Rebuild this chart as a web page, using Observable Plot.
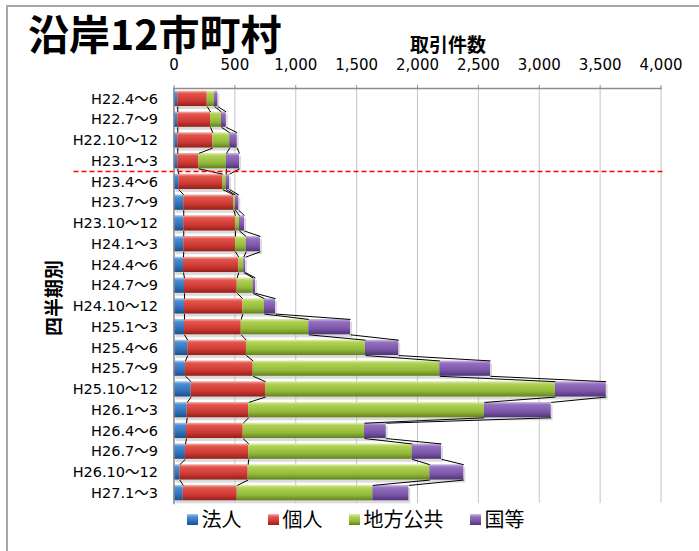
<!DOCTYPE html>
<html>
<head>
<meta charset="utf-8">
<script src="https://cdn.jsdelivr.net/npm/d3@7"></script>
<script src="https://cdn.jsdelivr.net/npm/@observablehq/plot@0.6"></script>
<style>
  body { margin: 0; background: #fff; }
  #wrap { position: relative; width: 699px; height: 551px; overflow: hidden; background: #fff; font-family: "Noto Sans CJK JP", sans-serif; color: #000; }
  #frame { position: absolute; left: 6px; top: 5px; width: 900px; height: 900px; border-left: 2px solid #a8a8a8; border-top: 2px solid #a8a8a8; z-index: 2; pointer-events: none; }
  #chart { position: absolute; left: 0; top: 0; }
  #title { position: absolute; left: 28px; top: 12px; font-size: 41px; font-weight: bold; line-height: 1; white-space: nowrap; z-index: 3; }
  #xtitle { position: absolute; left: 448px; top: 34px; transform: translateX(-50%); font-size: 19px; font-weight: bold; line-height: 1; white-space: nowrap; z-index: 3; }
  #ytitle { position: absolute; left: 52px; top: 298px; transform: translate(-50%, -50%) rotate(-90deg); font-size: 19px; font-weight: bold; line-height: 1; white-space: nowrap; z-index: 3; }
  #legend { position: absolute; left: 0; width: 699px; top: 507px; display: flex; justify-content: center; gap: 26px; font-size: 20px; line-height: 24px; z-index: 3; padding-left: 12px; box-sizing: border-box; }
  .item { display: flex; align-items: center; gap: 4px; }
  .sw { width: 11px; height: 11px; display: inline-block; }
</style>
</head>
<body>
<svg width="0" height="0" style="position:absolute">
  <defs>
    <linearGradient id="g0" x1="0" y1="0" x2="0" y2="1">
      <stop offset="0" stop-color="#a9cdf0"/>
      <stop offset="0.18" stop-color="#4a8fd6"/>
      <stop offset="0.65" stop-color="#2f6fb8"/>
      <stop offset="1" stop-color="#1d4f8c"/>
    </linearGradient>
    <linearGradient id="g1" x1="0" y1="0" x2="0" y2="1">
      <stop offset="0" stop-color="#f5b8b2"/>
      <stop offset="0.18" stop-color="#e2554d"/>
      <stop offset="0.65" stop-color="#cc3832"/>
      <stop offset="1" stop-color="#93201b"/>
    </linearGradient>
    <linearGradient id="g2" x1="0" y1="0" x2="0" y2="1">
      <stop offset="0" stop-color="#e2f0b4"/>
      <stop offset="0.18" stop-color="#b0d254"/>
      <stop offset="0.65" stop-color="#93b93a"/>
      <stop offset="1" stop-color="#62821f"/>
    </linearGradient>
    <linearGradient id="g3" x1="0" y1="0" x2="0" y2="1">
      <stop offset="0" stop-color="#d2c0e6"/>
      <stop offset="0.18" stop-color="#9470c0"/>
      <stop offset="0.65" stop-color="#7a55a6"/>
      <stop offset="1" stop-color="#4f3277"/>
    </linearGradient>
  </defs>
</svg>
<div id="wrap">
  <div id="frame"></div>
  <div id="chart"></div>
  <div id="title">沿岸12市町村</div>
  <div id="xtitle">取引件数</div>
  <div id="ytitle">四半期別</div>
  <div id="legend"></div>
</div>
<script>
const categories = ["H22.4～6","H22.7～9","H22.10～12","H23.1～3","H23.4～6","H23.7～9","H23.10～12","H24.1～3","H24.4～6","H24.7～9","H24.10～12","H25.1～3","H25.4～6","H25.7～9","H25.10～12","H26.1～3","H26.4～6","H26.7～9","H26.10～12","H27.1～3"];
const seriesNames = ["法人", "個人", "地方公共", "国等"];
const corp       = [31, 31, 31, 31, 39, 80, 80, 80, 78, 86, 86, 86, 113, 94, 141, 108, 103, 94, 48, 76];
const individual = [242, 269, 288, 173, 362, 411, 425, 425, 454, 433, 479, 466, 482, 556, 611, 506, 465, 520, 561, 443];
const localGov   = [60, 90, 139, 227, 28, 14, 33, 88, 41, 131, 178, 555, 978, 1533, 2381, 1936, 997, 1342, 1492, 1114];
const national   = [27, 39, 61, 107, 27, 27, 41, 117, 14, 19, 91, 343, 273, 417, 417, 548, 178, 241, 279, 296];
const xTicks = [0, 500, 1000, 1500, 2000, 2500, 3000, 3500, 4000];
const dividerAfter = "H23.1～3";

const seriesValues = [corp, individual, localGov, national];
const swatchCss = [
  "linear-gradient(#a9cdf0, #4a8fd6 25%, #2f6fb8 65%, #1d4f8c)",
  "linear-gradient(#f5b8b2, #e2554d 25%, #cc3832 65%, #93201b)",
  "linear-gradient(#e2f0b4, #b0d254 25%, #93b93a 65%, #62821f)",
  "linear-gradient(#d2c0e6, #9470c0 25%, #7a55a6 65%, #4f3277)"
];

const h = 0.37;
const segments = [];
const ends = seriesNames.map(() => []);
const rows = categories.map((c, i) => {
  let cum = 0;
  seriesValues.forEach((vals, k) => {
    segments.push({i, k, x1: cum, x2: cum + vals[i]});
    cum += vals[i];
    ends[k].push(cum);
  });
  return {i, total: cum};
});
const links = [];
ends.forEach((arr, k) => {
  for (let i = 0; i < arr.length - 1; i++) {
    links.push({k, x1: arr[i], y1: i + h, x2: arr[i + 1], y2: i + 1 - h});
  }
});
const divider = categories.indexOf(dividerAfter) + 0.5;

const chart = Plot.plot({
  width: 699,
  height: 551,
  marginTop: 88,
  marginBottom: 48,
  marginLeft: 173.5,
  marginRight: 38.5,
  style: {fontFamily: "'DejaVu Sans', 'Noto Sans CJK JP', sans-serif", background: "transparent", color: "#000"},
  x: {domain: [0, 4000]},
  y: {domain: [-0.5, categories.length - 0.5], reverse: true},
  marks: [
    Plot.gridX(xTicks, {stroke: "#c4c4c4", strokeOpacity: 1, strokeWidth: 1}),
    Plot.rect(rows, {x1: () => 0, x2: "total", y1: d => d.i - h, y2: d => d.i + h, fill: "#bdbdbd", fillOpacity: 0.55, dx: 2, dy: 3}),
    ...seriesNames.map((name, k) =>
      Plot.rect(segments.filter(s => s.k === k), {x1: "x1", x2: "x2", y1: d => d.i - h, y2: d => d.i + h, fill: `url(#g${k})`})
    ),
    Plot.link(links, {x1: "x1", y1: "y1", x2: "x2", y2: "y2", stroke: "#000", strokeWidth: 1}),
    Plot.ruleY([divider], {stroke: "#ff0000", strokeWidth: 1.5, strokeDasharray: "5,3", insetLeft: -100, insetRight: -3}),
    Plot.frame({anchor: "top", stroke: "#8c8c8c", strokeWidth: 1.5}),
    Plot.frame({anchor: "left", stroke: "#8c8c8c", strokeWidth: 1.5}),
    Plot.axisX({anchor: "top", ticks: xTicks, tickFormat: d3.format(","), tickSize: 4, tickPadding: 15, fontSize: 15, stroke: "#8c8c8c", label: null}),
    Plot.axisY({anchor: "left", ticks: d3.range(categories.length), tickFormat: i => categories[i], tickSize: 0, tickPadding: 16, fontSize: 14.5, label: null})
  ]
});
document.getElementById("chart").appendChild(chart);

const legend = d3.select("#legend");
seriesNames.forEach((name, k) => {
  const it = legend.append("div").attr("class", "item");
  it.append("span").attr("class", "sw").style("background", swatchCss[k]);
  it.append("span").text(name);
});
</script>
</body>
</html>
